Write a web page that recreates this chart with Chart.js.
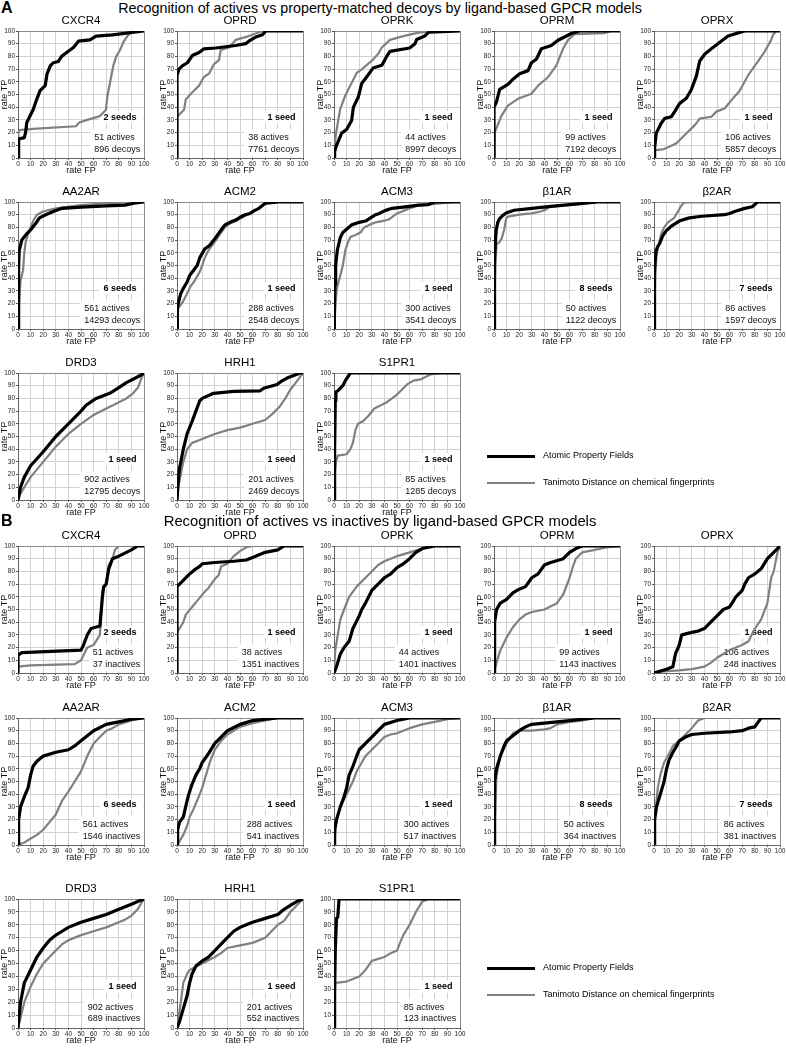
<!DOCTYPE html>
<html><head><meta charset="utf-8">
<script src="https://cdn.jsdelivr.net/npm/chart.js@4.4.1/dist/chart.umd.min.js"></script>
<style>
body{margin:0;width:786px;height:1050px;background:#fff;position:relative;overflow:hidden;font-family:"Liberation Sans",Arial,sans-serif;color:#000;}
.cw{position:absolute;}
.lbl{position:absolute;white-space:nowrap;}
.sec{font-size:16px;font-weight:bold;}
.lg{position:absolute;height:0;}
.lgt{position:absolute;font-size:9px;white-space:nowrap;}
</style></head><body>
<script>
// ---------- DATA ----------
const targets = ['CXCR4','OPRD','OPRK','OPRM','OPRX','AA2AR','ACM2','ACM3','\u03B21AR','\u03B22AR','DRD3','HRH1','S1PR1'];
const seeds = [2,1,1,1,1,6,1,1,8,7,1,1,1];
const actives = [51,38,44,99,106,561,288,300,50,86,902,201,85];
const decoysA = [896,7761,8997,7192,5857,14293,2548,3541,1122,1597,12795,2469,1285];
const inactivesB = [37,1351,1401,1143,248,1546,541,517,364,381,689,552,123];
const axisTicks = [0,10,20,30,40,50,60,70,80,90,100];
const legendLabels = ['Atomic Property Fields','Tanimoto Distance on chemical fingerprints'];

// Section A curves: [rate FP, rate TP]
const A_CXCR4_apf = [[0,0],[0.5,15],[5,16],[6,20],[7,28],[8,30],[12,38],[14.8,46],[17.5,53],[21.6,57],[23,66],[25.6,72.5],[28,75],[32,76],[34.6,80],[38.6,83],[44,87],[48,92],[57,93],[62,96],[75,97],[100,100]];
const A_CXCR4_tan = [[0,0],[0.3,20],[1,22],[12,23],[46,25],[48.6,28],[55,30],[65,33],[69.8,38],[71,49],[75.6,72.5],[78,80],[81,85],[83.5,91],[87.5,97],[90,99],[100,100]];
const A_OPRD_apf = [[0,0],[0,65],[1.6,70],[4.2,72.5],[8.2,75],[12.2,80.7],[17.5,83],[21.4,86],[30.7,86.6],[46.6,88.6],[54.5,90],[57,92],[62,95],[67.7,97],[70.4,100],[100,100]];
const A_OPRD_tan = [[0,0],[0,33],[1.6,34],[5.6,38],[6.9,46],[12,51.6],[17.5,57],[21.4,63.8],[25.4,66.4],[29.4,74],[33.3,77],[34.7,85],[41.3,87],[46.6,93],[57,96],[65,99],[68,100],[100,100]];
const A_OPRK_apf = [[0,0],[0.5,5],[2,10],[6.1,19.6],[10,22.5],[14,29.6],[15.4,40],[19.3,48],[22,58.7],[26,64],[31,70.8],[38,73],[41.8,80],[44.4,84],[60,86.6],[64.3,90],[65.6,93.3],[72,96],[75,99],[100,100]];
const A_OPRK_tan = [[0,0],[0.5,10],[1.6,19.6],[4.8,38],[8.7,48.6],[12.7,56.6],[18,67],[22,69.8],[31.2,77.7],[35,82],[38,87],[44.4,93],[55,96],[68,98.9],[100,100]];
const A_OPRM_apf = [[0,0],[0,40],[1.8,43.6],[4.5,54],[11,58],[15,62],[20.4,66.4],[27,68.8],[29.7,75],[33.6,77.8],[37.6,86],[45.5,88.6],[50.8,92.7],[61.4,98],[68,100],[100,100]];
const A_OPRM_tan = [[0,0],[0.5,20],[5.8,33],[11,41.3],[19,46.6],[29.7,50.6],[35,57],[43,63.8],[49.5,73],[54.8,86],[58.8,93],[64,97.5],[88,98.4],[93,100],[100,100]];
const A_OPRX_apf = [[0,0],[0.5,8],[1.8,19.6],[5.8,27.5],[8.5,31.2],[13.8,32.5],[16.4,36.5],[20.4,43],[25.7,47],[29.7,54],[33.6,64.5],[36.3,76.4],[40.2,81.7],[45.5,86],[52,91],[58.8,96],[68,98.9],[72,100],[100,100]];
const A_OPRX_tan = [[0,0],[0,6],[8,7],[12.5,9],[17.8,11.6],[27,20.6],[32.4,25.9],[36.3,31],[45.5,32.5],[49.5,36.5],[56,39],[61.4,45.5],[68,53],[74.6,65],[82.5,76],[88,84],[93,93],[94.5,97],[97,100],[100,100]];
const A_AA2AR_apf = [[0,0],[0.5,50],[1,62],[3,70],[7,75],[10,78],[14,83],[17,87.5],[22,90],[28,92.5],[35,95],[50,96],[70,97],[85,97.5],[92,99],[100,100]];
const A_AA2AR_tan = [[0,0],[1,25],[2,38],[4,46],[5,60],[6,68],[8,75],[12,85],[15,90],[20,92.5],[30,95],[50,97.5],[70,99],[100,100]];
const A_ACM2_apf = [[0,0],[0.3,15],[1,20],[3,28],[5,32],[8,37],[10,42],[13,46],[16,50],[18,56],[22,63],[26,66],[30,71],[35,78],[38,82],[42,84],[47,86],[50,88],[54,90],[58,91],[61,93],[65,95],[68,97.5],[70,99],[75,99.5],[80,100],[100,100]];
const A_ACM2_tan = [[0,0],[0.5,10],[1,17],[3,19],[5,22],[8,28],[11,34],[14,38],[18,45],[20,50],[22,56],[25,62],[28,66],[31,70],[35,76],[38,80],[42,83],[47,85],[52,88],[56,90],[60,92],[65,95],[68,97.5],[72,99],[80,100],[100,100]];
const A_ACM3_apf = [[0,0],[0.3,20],[0.8,35],[1.3,50],[2.6,62],[5,72],[7,76],[9.3,78],[14,82],[20,84],[25,85],[29,87.5],[33,90],[36,91],[40,93],[46,95],[55,96],[67,97.5],[75,98],[80,100],[100,100]];
const A_ACM3_tan = [[0,0],[1,15],[2,30],[3,35],[5,42],[7,50],[9,62],[11,68],[13,72.5],[17,74],[21,76],[24,80],[28,82],[33,84],[38,85],[43,86],[46,88],[50,91],[55,93],[60,95],[66,97],[73,98],[86,99],[96,100],[100,100]];
const A_B1AR_apf = [[0,0],[0.3,30],[0.6,55],[1.2,70],[1.8,78],[3,84],[4.5,87],[7,89.5],[10,91.5],[16,93.5],[30,95],[45,96.5],[56,97.5],[70,98.8],[82,100],[100,100]];
const A_B1AR_tan = [[0,0],[0.5,30],[1,50],[2,67],[4,68],[6,71],[8,78],[9.8,87.5],[11,88.5],[20,90],[30,91],[37,92.5],[41,94],[44,96],[56,97.5],[70,98.5],[82,100],[100,100]];
const A_B2AR_apf = [[0,0],[0.3,25],[0.6,45],[1,55],[1.8,62],[3,65],[4.5,67.5],[7,73.5],[9.8,77.5],[13.8,81],[20,85],[28,87.5],[38,88.8],[56,90],[60,91],[64,92.5],[72,95],[78,96.3],[80,98],[82,100],[100,100]];
const A_B2AR_tan = [[0,0],[0.3,20],[1,45],[2,58],[3,63],[5.8,75],[8,80],[11,84],[16,87.5],[19,92.5],[21,96],[23,99],[25,99.6],[100,100]];
const A_DRD3_apf = [[0,0],[2,10],[5,18],[10,27],[20,38],[30,50],[40,60],[50,70],[54,74.6],[62,80],[72.8,84],[80,88.5],[86,92.4],[96.6,97.8],[100,100]];
const A_DRD3_tan = [[0,0],[2,5],[5,10],[10,18],[20,30],[30,42],[40,52],[50,60],[60,67],[70,72],[75.4,74.6],[86,80],[91.3,84],[95.2,88.5],[98,96],[100,100]];
const A_HRH1_apf = [[0,0],[1,15],[2,25],[5,40],[8,52],[12,62],[15,70],[18,78],[20,80],[29,84],[45,85.5],[66,86],[68.8,88],[79.4,91],[82,93],[87.3,96],[97.8,100],[100,100]];
const A_HRH1_tan = [[0,0],[1,10],[3,20],[5,30],[8,40],[12,45],[20,48],[30,52],[40,55],[50,57],[60,60],[70,63],[76,68],[81,73],[86,80],[90,87],[94,92],[100,100]];
const A_S1PR1_apf = [[0,0],[0.5,40],[1,78],[1.5,85],[3,86],[5,88],[7,90],[9,94],[11,97],[13,100],[100,100]];
const A_S1PR1_tan = [[0,0],[0.5,20],[1.5,30],[3,35],[10,36],[13,40],[15,45],[17,55],[19,60],[23,62],[27,66],[32,72],[38,75],[42,77],[46,80],[50,83],[55,88],[58,91],[63,94],[69,95],[73,97],[77,99],[85,100],[100,100]];

// Section B curves
const B_CXCR4_apf = [[0,0],[0,14],[3,16],[50,18],[52,22],[55,30],[58,35],[65,37],[67,60],[68,68],[70,70],[72,82],[75,90],[80,92],[90,97],[95,100],[100,100]];
const B_CXCR4_tan = [[0,0],[0,5],[10,6],[45,7],[50,10],[55,20],[60,22],[65,30],[67,65],[70,70],[72,85],[75,90],[77,97],[80,100],[100,100]];
const B_OPRD_apf = [[0,0],[0,68],[2,70],[5,73],[10,78],[15,82],[18,84],[20,86],[30,87],[45,88],[55,89],[60,91],[70,95],[80,97],[85,100],[100,100]];
const B_OPRD_tan = [[0,0],[0,32],[2,35],[5,40],[7,46],[12,52],[17,58],[22,64],[25,67],[30,74],[33,77],[35,84],[40,86],[45,92],[50,96],[55,99],[60,100],[100,100]];
const B_OPRK_apf = [[0,0],[2,5],[5,15],[8,20],[12,25],[15,35],[20,45],[22,50],[25,55],[30,65],[35,70],[40,75],[45,78],[50,83],[55,86],[60,90],[65,95],[70,98],[80,100],[100,100]];
const B_OPRK_tan = [[0,0],[1,18],[3,30],[5,42],[8,50],[12,60],[18,68],[25,75],[30,80],[35,85],[40,88],[50,92],[60,95],[70,98],[75,100],[100,100]];
const B_OPRM_apf = [[0,0],[0.5,40],[2,50],[5,55],[10,58],[15,63],[20,66],[25,68],[30,75],[35,78],[40,85],[45,87],[55,90],[60,95],[65,98],[70,100],[100,100]];
const B_OPRM_tan = [[0,0],[2,8],[5,18],[10,28],[15,36],[20,42],[25,46],[30,48],[40,50],[50,55],[55,62],[60,75],[63,85],[65,90],[70,95],[80,97],[90,99],[100,100]];
const B_OPRX_apf = [[0,0],[10,3],[15,5],[17,15],[20,22],[22,30],[30,32],[35,33],[40,35],[45,40],[50,45],[55,50],[60,52],[62,55],[65,60],[70,65],[72,70],[75,75],[80,78],[85,82],[90,90],[95,95],[100,100]];
const B_OPRX_tan = [[0,0],[5,1],[20,2],[30,3],[40,5],[45,8],[50,12],[55,15],[60,18],[65,20],[70,22],[75,25],[80,35],[85,42],[90,55],[93,75],[95,80],[98,95],[100,100]];
const B_AA2AR_apf = [[0,0],[0.5,20],[2,30],[5,38],[8,45],[10,55],[12,62],[15,66],[20,70],[30,73],[40,75],[45,78],[50,82],[55,86],[60,90],[70,95],[80,97],[90,99],[100,100]];
const B_AA2AR_tan = [[0,0],[5,2],[10,5],[15,8],[20,12],[25,18],[30,24],[35,35],[40,42],[45,50],[50,58],[55,70],[60,80],[65,85],[70,90],[75,92],[80,95],[90,98],[100,100]];
const B_ACM2_apf = [[0,0],[0.5,12],[2,18],[5,22],[8,35],[10,42],[12,48],[15,55],[18,60],[20,65],[25,72],[30,80],[35,85],[40,90],[50,95],[60,98],[70,99],[80,100],[100,100]];
const B_ACM2_tan = [[0,0],[2,3],[5,8],[8,15],[10,22],[13,28],[16,35],[20,45],[23,55],[26,65],[30,75],[35,82],[40,87],[45,90],[50,93],[60,96],[70,98],[80,100],[100,100]];
const B_ACM3_apf = [[0,0],[0.5,12],[2,20],[5,30],[8,38],[10,45],[12,55],[15,62],[18,70],[20,75],[25,80],[30,85],[35,90],[40,95],[50,98],[60,100],[100,100]];
const B_ACM3_tan = [[0,0],[2,20],[5,30],[8,36],[10,40],[15,50],[18,58],[22,65],[25,70],[30,75],[35,80],[40,85],[45,87],[50,88],[55,90],[60,92],[70,95],[80,97],[90,99],[100,100]];
const B_B1AR_apf = [[0,0],[0.5,50],[2,60],[5,70],[8,78],[10,82],[15,86],[20,90],[25,93],[30,95],[40,96],[50,97],[60,98],[70,99],[80,100],[100,100]];
const B_B1AR_tan = [[0,0],[1,30],[2,55],[5,70],[10,80],[15,88],[20,90],[30,90],[40,91],[45,92],[50,95],[60,97],[70,98],[80,100],[100,100]];
const B_B2AR_apf = [[0,0],[0.5,20],[2,30],[5,40],[8,50],[10,60],[12,67],[15,73],[18,78],[20,82],[25,85],[30,87],[40,88],[60,89],[70,90],[75,92],[80,93],[85,100],[100,100]];
const B_B2AR_tan = [[0,0],[1,25],[3,45],[5,55],[8,65],[12,72],[15,78],[20,82],[25,87],[30,92],[35,98],[40,100],[100,100]];
const B_DRD3_apf = [[0,0],[2,20],[5,35],[10,45],[15,55],[20,62],[25,68],[30,72],[35,75],[40,78],[50,82],[60,85],[70,88],[80,92],[90,96],[95,98],[100,100]];
const B_DRD3_tan = [[0,0],[2,8],[5,20],[10,32],[15,42],[20,50],[25,55],[30,60],[35,65],[40,68],[50,72],[60,75],[70,78],[80,82],[85,84],[90,87],[95,92],[98,97],[100,100]];
const B_HRH1_apf = [[0,0],[2,5],[5,15],[8,25],[10,35],[12,42],[15,48],[20,52],[25,55],[30,60],[35,65],[40,70],[45,75],[50,78],[55,80],[60,82],[70,85],[80,88],[85,92],[90,95],[95,98],[100,100]];
const B_HRH1_tan = [[0,0],[3,20],[5,35],[8,42],[10,45],[20,50],[30,55],[35,58],[40,62],[50,64],[60,66],[70,70],[75,75],[80,80],[85,83],[90,90],[95,95],[100,100]];
const B_S1PR1_apf = [[0,0],[0.5,30],[1,60],[2,85],[3,86],[4,100],[100,100]];
const B_S1PR1_tan = [[0,0],[1,35],[10,36],[15,38],[20,40],[25,45],[30,52],[40,55],[45,58],[50,60],[52,65],[55,72],[60,80],[65,90],[70,98],[75,100],[100,100]];

const curvesA = [[A_CXCR4_apf,A_CXCR4_tan],[A_OPRD_apf,A_OPRD_tan],[A_OPRK_apf,A_OPRK_tan],[A_OPRM_apf,A_OPRM_tan],[A_OPRX_apf,A_OPRX_tan],[A_AA2AR_apf,A_AA2AR_tan],[A_ACM2_apf,A_ACM2_tan],[A_ACM3_apf,A_ACM3_tan],[A_B1AR_apf,A_B1AR_tan],[A_B2AR_apf,A_B2AR_tan],[A_DRD3_apf,A_DRD3_tan],[A_HRH1_apf,A_HRH1_tan],[A_S1PR1_apf,A_S1PR1_tan]];
const curvesB = [[B_CXCR4_apf,B_CXCR4_tan],[B_OPRD_apf,B_OPRD_tan],[B_OPRK_apf,B_OPRK_tan],[B_OPRM_apf,B_OPRM_tan],[B_OPRX_apf,B_OPRX_tan],[B_AA2AR_apf,B_AA2AR_tan],[B_ACM2_apf,B_ACM2_tan],[B_ACM3_apf,B_ACM3_tan],[B_B1AR_apf,B_B1AR_tan],[B_B2AR_apf,B_B2AR_tan],[B_DRD3_apf,B_DRD3_tan],[B_HRH1_apf,B_HRH1_tan],[B_S1PR1_apf,B_S1PR1_tan]];

// ---------- LAYOUT ----------
const FONT = '"Liberation Sans", Arial, sans-serif';
Chart.defaults.font.family = FONT;
const colLeft = [18, 177, 334, 494, 654];
const rowTopA = [32, 203, 374];
const rowTopB = [547, 719, 900];
const rowHA = [126, 126, 126];
const rowHB = [126, 126, 128];
const PLOTW = 126, YW = 19, TOPH = 20, XH = 20, RPAD = 27;

const labelPlugin = {
  id: 'roclabel',
  beforeDatasetsDraw(chart, args, o) {
    const {ctx} = chart; const x = chart.scales.x, y = chart.scales.y;
    ctx.save();
    ctx.font = 'bold 9px ' + FONT;
    const sw = ctx.measureText(o.seeds).width;
    const sR = x.getPixelForValue(94), sY = y.getPixelForValue(32);
    ctx.fillStyle = '#fff';
    ctx.fillRect(sR - sw - 4, y.getPixelForValue(37), x.getPixelForValue(99.4) - (sR - sw - 4), y.getPixelForValue(27.5) - y.getPixelForValue(37));
    ctx.fillStyle = '#000'; ctx.textAlign = 'right'; ctx.textBaseline = 'middle';
    ctx.fillText(o.seeds, sR, sY);
    ctx.font = '9px ' + FONT;
    const w = Math.max(ctx.measureText(o.l1).width, ctx.measureText(o.l2).width);
    const bx = x.getPixelForValue(97) - w;
    ctx.fillStyle = '#fff';
    ctx.fillRect(bx - 4, y.getPixelForValue(22.5), x.getPixelForValue(99.4) - (bx - 4), y.getPixelForValue(1.2) - y.getPixelForValue(22.5));
    ctx.fillStyle = '#111'; ctx.textAlign = 'left';
    ctx.fillText(o.l1, bx, y.getPixelForValue(16));
    ctx.fillText(o.l2, bx, y.getPixelForValue(7));
    ctx.restore();
  }
};

function gridColor(c){ return (c.tick && c.tick.value === 100) ? '#8c8c8c' : '#d2d2d2'; }

function makeChart(left, top, plotH, name, pair, s, n1, n2, kind) {
  const W = YW + PLOTW + RPAD, H = TOPH + plotH + XH;
  const wrap = document.createElement('div');
  wrap.className = 'cw';
  Object.assign(wrap.style, {left: (left - YW) + 'px', top: (top - TOPH) + 'px', width: W + 'px', height: H + 'px'});
  const cv = document.createElement('canvas');
  cv.width = W; cv.height = H;
  wrap.appendChild(cv);
  document.body.appendChild(wrap);
  const toPts = a => a.map(p => ({x: p[0], y: p[1]}));
  const scaleBase = (title, isX) => ({
    type: 'linear', min: 0, max: 100,
    afterBuildTicks: sc => { sc.ticks = axisTicks.map(v => ({value: v})); },
    afterFit: sc => { if (isX) sc.height = XH; else sc.width = YW; },
    ticks: {autoSkip: false, maxRotation: 0, minRotation: 0, font: {size: 6.5}, color: '#222', padding: isX ? 0 : 1},
    grid: {color: gridColor, lineWidth: 1, tickColor: '#555', tickLength: 2, drawTicks: true},
    border: {display: true, color: '#666', width: 1},
    title: {display: true, text: title, font: {size: 9}, color: '#111', padding: isX ? {top: 0, bottom: 1.6} : {top: 0, bottom: 0}}
  });
  new Chart(cv, {
    type: 'scatter',
    data: {datasets: [
      {label: legendLabels[0], data: toPts(pair[0]), showLine: true, borderColor: '#000', borderWidth: 3.2, pointRadius: 0, tension: 0, borderJoinStyle: 'round', borderCapStyle: 'round'},
      {label: legendLabels[1], data: toPts(pair[1]), showLine: true, borderColor: '#808080', borderWidth: 2.2, pointRadius: 0, tension: 0, borderJoinStyle: 'round'}
    ]},
    options: {
      responsive: false, animation: false, events: [],
      layout: {padding: {left: 0, right: RPAD, top: 0, bottom: 0}},
      plugins: {
        legend: {display: false}, tooltip: {enabled: false},
        title: {display: true, fullSize: false, text: name, font: {size: 11.5, weight: 'normal'}, color: '#000', padding: {top: 2.2, bottom: 3}},
        roclabel: {seeds: s + (s === 1 ? ' seed' : ' seeds'), l1: n1 + ' actives', l2: n2 + ' ' + kind}
      },
      scales: {x: scaleBase('rate FP', true), y: scaleBase('rate TP', false)}
    },
    plugins: [labelPlugin]
  });
}

function addText(cls, txt, left, top, extra) {
  const d = document.createElement('div');
  d.className = 'lbl ' + cls; d.textContent = txt;
  d.style.left = left + 'px'; d.style.top = top + 'px';
  if (extra) Object.assign(d.style, extra);
  document.body.appendChild(d);
}

function addLegend(top) {
  const specs = [{c: '#000', h: 3, y: top}, {c: '#808080', h: 2, y: top + 27}];
  specs.forEach((sp, i) => {
    const l = document.createElement('div');
    l.className = 'lg';
    Object.assign(l.style, {left: '487px', width: '48px', top: (sp.y - sp.h / 2) + 'px', height: sp.h + 'px', background: sp.c});
    document.body.appendChild(l);
    const t = document.createElement('div');
    t.className = 'lgt'; t.textContent = legendLabels[i];
    Object.assign(t.style, {left: '543px', top: (sp.y - 6) + 'px'});
    document.body.appendChild(t);
  });
}

function section(rowTops, rowHs, curves, kindArr, kind) {
  targets.forEach((name, i) => {
    const r = Math.floor(i / 5), c = i % 5;
    makeChart(colLeft[c], rowTops[r], rowHs[r], name, curves[i], seeds[i], actives[i], kindArr[i], kind);
  });
}

addText('sec', 'A', 1, -1);
addText('', 'Recognition of actives vs property-matched decoys by ligand-based GPCR models', 380, 0, {transform: 'translateX(-50%)', fontSize: '14.3px'});
section(rowTopA, rowHA, curvesA, decoysA, 'decoys');
addLegend(456);

addText('sec', 'B', 1, 512);
addText('', 'Recognition of actives vs inactives by ligand-based GPCR models', 380, 513, {transform: 'translateX(-50%)', fontSize: '14.8px'});
section(rowTopB, rowHB, curvesB, inactivesB, 'inactives');
addLegend(968);
</script>
</body></html>
